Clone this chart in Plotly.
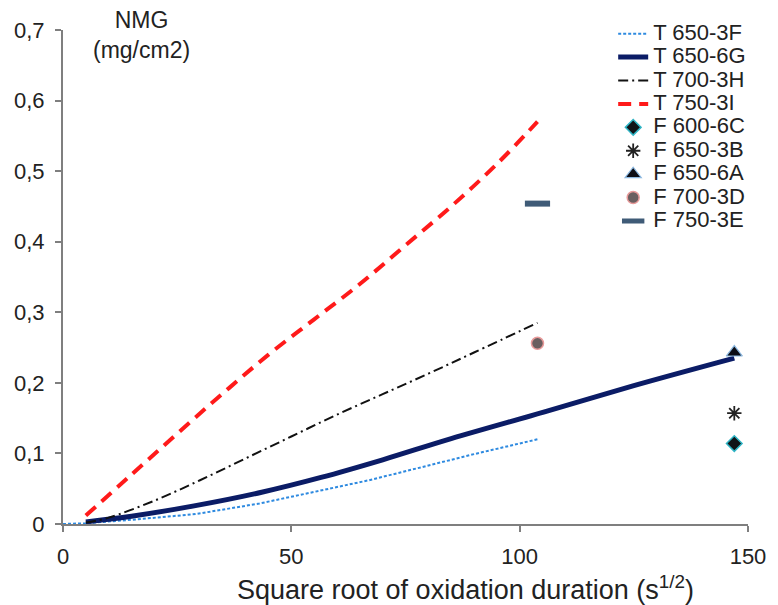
import plotly.graph_objects as go

# Model curves: net mass gain (mg/cm2) vs square root of oxidation time (s^1/2)
x_650_3F = [0, 5, 15, 29, 43, 56.5, 67, 77.6, 90, 103.9]
y_650_3F = [0, 0.001, 0.006, 0.014, 0.029, 0.047, 0.062, 0.079, 0.099, 0.12]

x_650_6G = [5, 15, 29, 43.5, 56.5, 70, 85, 106, 125, 147.0]
y_650_6G = [0.003, 0.011, 0.026, 0.045, 0.066, 0.091, 0.121, 0.160, 0.196, 0.235]

x_700_3H = [5, 10, 20, 30, 40, 50, 60, 70, 80, 90, 103.9]
y_700_3H = [0.002, 0.009, 0.033, 0.062, 0.093, 0.124, 0.155, 0.184, 0.213, 0.243, 0.285]

x_750_3I = [5, 15, 25, 35, 45, 55, 65, 75, 85, 95, 103.9]
y_750_3I = [0.012, 0.07, 0.128, 0.185, 0.24, 0.29, 0.34, 0.395, 0.45, 0.51, 0.57]

# Measured points
x_600_6C, y_600_6C = [147.0], [0.114]
x_650_3B, y_650_3B = [147.0], [0.157]
x_650_6A, y_650_6A = [147.0], [0.243]
x_700_3D, y_700_3D = [103.9], [0.256]
x_750_3E, y_750_3E = [103.9], [0.454]

x_ticks = [0, 50, 100, 150]
y_ticks = [0, 0.1, 0.2, 0.3, 0.4, 0.5, 0.6, 0.7]

W, H = 778, 605
L, R, T, B = 63, 754, 30, 524
FONT = "Liberation Sans, Arial, sans-serif"
TXT = "#222222"


def px(xp):
    return (xp - L) / (R - L)


def py(yp):
    return (B - yp) / (B - T)


def lg(name):
    return '<span style="font-size:22px">' + name + '</span>'


fig = go.Figure()

fig.add_trace(go.Scatter(x=x_650_3F, y=y_650_3F, mode="lines", name=lg("T 650-3F"),
                         line=dict(color="#2e8ae0", width=2, dash="3px,2px")))
fig.add_trace(go.Scatter(x=x_650_6G, y=y_650_6G, mode="lines", name=lg("T 650-6G"),
                         line=dict(color="#0b1c66", width=5, shape="spline")))
fig.add_trace(go.Scatter(x=x_700_3H, y=y_700_3H, mode="lines", name=lg("T 700-3H"),
                         line=dict(color="#111111", width=2, dash="10px,4px,2px,4px", shape="spline")))
fig.add_trace(go.Scatter(x=x_750_3I, y=y_750_3I, mode="lines", name=lg("T 750-3I"),
                         line=dict(color="#ff1a1a", width=4, dash="13px,8px", shape="spline")))

fig.add_trace(go.Scatter(x=x_600_6C, y=y_600_6C, mode="markers", name=lg("F 600-6C"),
                         marker=dict(symbol="diamond", size=12, color="#101418",
                                     line=dict(color="#2fb4c4", width=1.5))))
fig.add_trace(go.Scatter(x=x_650_3B, y=y_650_3B, mode="markers", name=lg("F 650-3B"),
                         marker=dict(symbol="asterisk-open", size=12, color="#222222",
                                     line=dict(color="#222222", width=1.8))))
fig.add_trace(go.Scatter(x=x_650_6A, y=y_650_6A, mode="markers", name=lg("F 650-6A"),
                         marker=dict(symbol="triangle-up", size=14, color="#0d0d14",
                                     line=dict(color="#8cb8e0", width=1.2))))
fig.add_trace(go.Scatter(x=x_700_3D, y=y_700_3D, mode="markers", name=lg("F 700-3D"),
                         marker=dict(symbol="circle", size=12, color="#6a5f60",
                                     line=dict(color="#e89a9a", width=1.5))))
fig.add_trace(go.Scatter(x=x_750_3E, y=y_750_3E, mode="markers", name=lg("F 750-3E"),
                         marker=dict(symbol="line-ew-open", size=18, color="#3f5b77",
                                     line=dict(color="#3f5b77", width=6))))

axis_common = dict(
    showline=True, linecolor="#7f7f7f", linewidth=2,
    ticks="outside", tickcolor="#7f7f7f", tickwidth=1.5, ticklen=6,
    showgrid=False, zeroline=False,
    tickfont=dict(family=FONT, size=22, color=TXT),
    ticklabelstandoff=6,
)

fig.update_layout(
    width=W, height=H,
    margin=dict(l=L, r=W - R, t=T, b=H - B, pad=0),
    paper_bgcolor="white", plot_bgcolor="white",
    separators=",.",
    showlegend=True,
    legend=dict(x=px(618), y=py(17), xanchor="left", yanchor="top",
                font=dict(family=FONT, size=15.7, color=TXT),
                bgcolor="rgba(0,0,0,0)", borderwidth=0, itemwidth=30),
    xaxis=dict(range=[0, 150], tickvals=x_ticks, **axis_common),
    yaxis=dict(range=[0, 0.7], tickvals=y_ticks, **axis_common),
    annotations=[
        dict(text="NMG<br>(mg/cm2)", xref="paper", yref="paper", x=px(142), y=py(35),
             xanchor="center", yanchor="middle", showarrow=False,
             font=dict(family=FONT, size=23, color=TXT)),
        dict(text="Square root of oxidation duration (s<sup>1/2</sup>)",
             xref="paper", yref="paper", x=px(469), y=py(588),
             xanchor="center", yanchor="middle", showarrow=False,
             font=dict(family=FONT, size=27, color=TXT)),
    ],
)

fig.write_html("out.html")
